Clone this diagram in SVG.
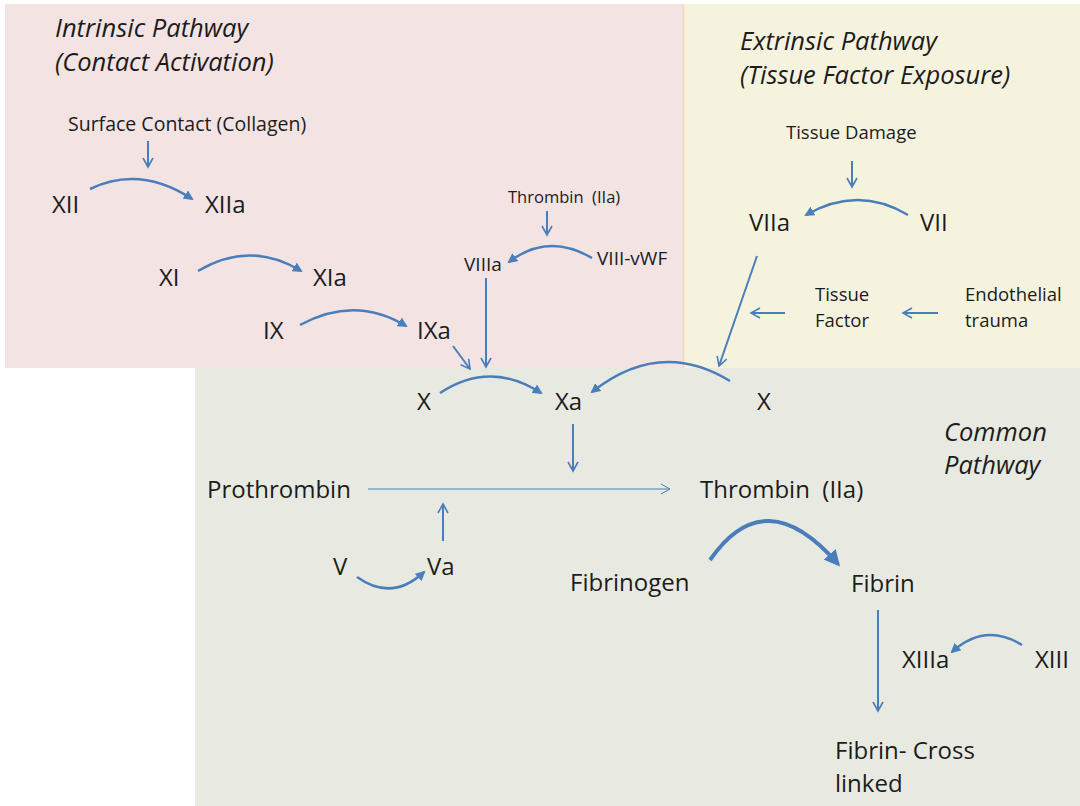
<svg xmlns="http://www.w3.org/2000/svg" width="1080" height="806" viewBox="0 0 1080 806">
<style>
text{font-family:"Open Sans","Noto Sans","Liberation Sans",sans-serif;fill:#1c1c1c}
.big{font-size:24px}
.med{font-size:18.5px}
.sm{font-size:16.5px}
.sm2{font-size:19px}
.ttl{font-size:25.5px;font-style:italic}
.c{fill:none;stroke:#4a7ebb;stroke-width:2.5}
.t{fill:none;stroke:#4a7ebb;stroke-width:2}
</style>
<defs>
<marker id="tri" viewBox="0 0 10 10" refX="8" refY="5" markerWidth="4" markerHeight="4" orient="auto" markerUnits="strokeWidth"><path d="M0,0 L10,5 L0,10 z" fill="#4a7ebb"/></marker>
<marker id="vee" viewBox="0 0 12 12" refX="10" refY="6" markerWidth="6" markerHeight="6" orient="auto" markerUnits="strokeWidth"><path d="M1,1 L10,6 L1,11" fill="none" stroke="#4a7ebb" stroke-width="1.6"/></marker>
<marker id="veeThin" viewBox="0 0 12 12" refX="10" refY="6" markerWidth="12" markerHeight="12" orient="auto" markerUnits="strokeWidth"><path d="M1,1 L10,6 L1,11" fill="none" stroke="#4a7ebb" stroke-width="1"/></marker>
</defs>
<g id="regions">
<rect x="5" y="4" width="678" height="364" fill="#f3e3e3"/>
<rect x="683" y="4" width="397" height="364" fill="#f5f3de"/>
<line x1="683.5" y1="4" x2="683.5" y2="368" stroke="#f3d9b8" stroke-width="1.5"/>
<rect x="195" y="368" width="885" height="438" fill="#e8eae1"/>
</g>
<g id="titles">
<text class="ttl" x="55" y="37">Intrinsic Pathway</text>
<text class="ttl" x="55" y="71">(Contact Activation)</text>
<text class="ttl" x="740" y="50">Extrinsic Pathway</text>
<text class="ttl" x="740" y="84">(Tissue Factor Exposure)</text>
<text class="ttl" x="944" y="441">Common</text>
<text class="ttl" x="944" y="474">Pathway</text>
</g>
<g id="n-surface"><text class="med" x="68" y="131" style="font-size:19.5px">Surface Contact (Collagen)</text></g>
<g id="n-XII"><text class="big" x="52" y="213">XII</text></g>
<g id="n-XIIa"><text class="big" x="205" y="213">XIIa</text></g>
<g id="n-XI"><text class="big" x="159" y="286">XI</text></g>
<g id="n-XIa"><text class="big" x="313" y="286">XIa</text></g>
<g id="n-IX"><text class="big" x="263" y="339">IX</text></g>
<g id="n-IXa"><text class="big" x="417" y="339">IXa</text></g>
<g id="n-thrombin-top"><text class="sm" x="508" y="203" xml:space="preserve">Thrombin  (IIa)</text></g>
<g id="n-VIIIa"><text class="sm2" x="464" y="271">VIIIa</text></g>
<g id="n-VIII-vWF"><text class="sm2" x="597" y="265">VIII-vWF</text></g>
<g id="n-tissue-damage"><text class="med" x="786" y="139" xml:space="preserve">Tissue Damage</text></g>
<g id="n-VIIa"><text class="big" x="749" y="231">VIIa</text></g>
<g id="n-VII"><text class="big" x="920" y="231">VII</text></g>
<g id="n-tissue-factor"><text class="med" x="815" y="301">Tissue</text><text class="med" x="815" y="327">Factor</text></g>
<g id="n-endothelial"><text class="med" x="965" y="301">Endothelial</text><text class="med" x="965" y="327">trauma</text></g>
<g id="n-X-left"><text class="big" x="417" y="410">X</text></g>
<g id="n-Xa"><text class="big" x="555" y="410">Xa</text></g>
<g id="n-X-right"><text class="big" x="757" y="410">X</text></g>
<g id="n-prothrombin"><text class="big" x="207" y="498">Prothrombin</text></g>
<g id="n-thrombin"><text class="big" x="700" y="498" xml:space="preserve">Thrombin  (IIa)</text></g>
<g id="n-V"><text class="big" x="333" y="575">V</text></g>
<g id="n-Va"><text class="big" x="427" y="575">Va</text></g>
<g id="n-fibrinogen"><text class="big" x="570" y="591">Fibrinogen</text></g>
<g id="n-fibrin"><text class="big" x="851" y="592">Fibrin</text></g>
<g id="n-XIIIa"><text class="big" x="902" y="668">XIIIa</text></g>
<g id="n-XIII"><text class="big" x="1035" y="668">XIII</text></g>
<g id="n-fibrin-cross"><text class="big" x="835" y="759">Fibrin- Cross</text><text class="big" x="835" y="792">linked</text></g>
<g id="connectors">
<line class="t" x1="148" y1="141" x2="148" y2="167" marker-end="url(#vee)"/>
<path class="c" d="M90,189 Q140,165 192,199" marker-end="url(#tri)"/>
<path class="c" d="M198,271 Q250,240 301,271" marker-end="url(#tri)"/>
<path class="c" d="M300,325 Q355,295 406,326" marker-end="url(#tri)"/>
<line class="t" x1="547" y1="211" x2="547" y2="235" marker-end="url(#vee)"/>
<path class="c" d="M592,258 Q548,232 509,262" marker-end="url(#tri)"/>
<line class="t" x1="486" y1="278" x2="486" y2="367" marker-end="url(#vee)"/>
<line class="t" x1="453" y1="346" x2="470" y2="369" marker-end="url(#vee)"/>
<path class="c" d="M440,393 Q490,360 541,393" marker-end="url(#tri)"/>
<path class="c" d="M730,381 Q660,338 592,392" marker-end="url(#tri)"/>
<line class="t" x1="757" y1="256" x2="719" y2="366" marker-end="url(#vee)"/>
<line class="t" x1="852" y1="161" x2="852" y2="187" marker-end="url(#vee)"/>
<path class="c" d="M908,215 Q858,185 806,215" marker-end="url(#tri)"/>
<line class="t" x1="785" y1="313" x2="751" y2="313" marker-end="url(#vee)"/>
<line class="t" x1="938" y1="313" x2="903" y2="313" marker-end="url(#vee)"/>
<line class="t" x1="573" y1="424" x2="573" y2="471" marker-end="url(#vee)"/>
<line x1="368" y1="489" x2="670" y2="489" stroke="#4a7ebb" stroke-width="1" fill="none" marker-end="url(#veeThin)"/>
<line class="t" x1="443" y1="541" x2="443" y2="504" marker-end="url(#vee)"/>
<path class="c" d="M357,577 Q392,602 424,572" marker-end="url(#tri)"/>
<path d="M710,560 Q765,480 838,564" fill="none" stroke="#4a7ebb" stroke-width="4" marker-end="url(#tri)"/>
<line class="t" x1="878" y1="610" x2="878" y2="711" marker-end="url(#vee)"/>
<path class="c" d="M1022,645 Q985,622 952,652" marker-end="url(#tri)"/>
</g>
</svg>
